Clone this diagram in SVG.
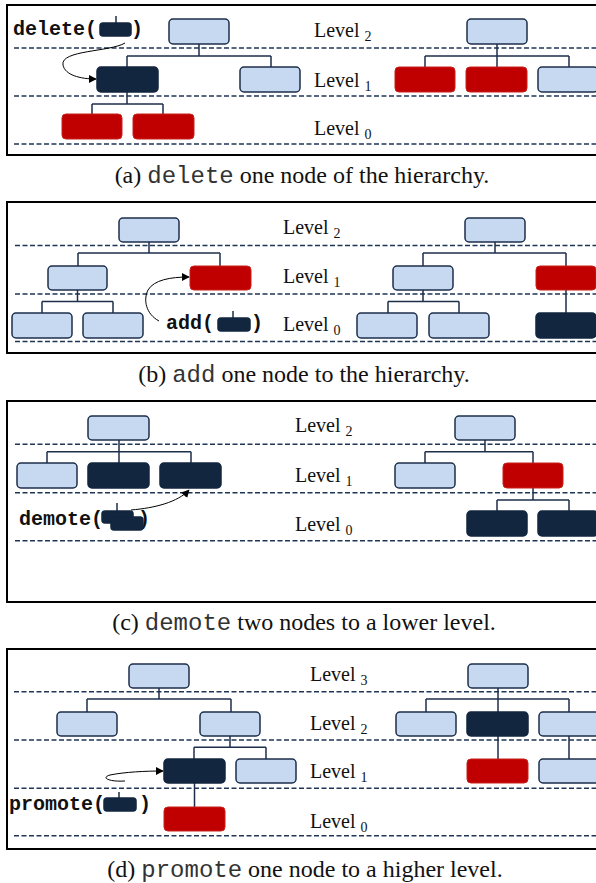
<svg xmlns="http://www.w3.org/2000/svg" width="596" height="883" viewBox="0 0 596 883">
  <defs>
    <style>
      .frame { fill: none; stroke: #000; stroke-width: 2; }
      .lvl { stroke: #1f3556; stroke-width: 1.5; stroke-dasharray: 5 2.5; fill: none; }
      .light { fill: #c6d9f0; stroke: #1c2e4a; stroke-width: 1.5; }
      .dark { fill: #12263f; stroke: #12263f; stroke-width: 1.5; }
      .red { fill: #c00000; stroke: #c8201a; stroke-width: 1; }
      .edge { stroke: #1c2e4a; stroke-width: 1.5; fill: none; }
      .op { stroke: #000; stroke-width: 1; fill: none; marker-end: url(#head); }
      .lbl { font-family: "Liberation Serif", "Times New Roman", serif; font-size: 20px; fill: #111; }
      .sub { font-size: 14px; }
      .fn { font-family: "Liberation Mono", "Courier New", monospace; font-size: 20px; font-weight: bold; fill: #111; }
      .cap { font-family: "Liberation Serif", "Times New Roman", serif; font-size: 24px; fill: #111; }
      .mono { font-family: "Liberation Mono", "Courier New", monospace; fill: #333; }
    </style>
    <marker id="head" viewBox="0 0 10 10" refX="9" refY="5" markerWidth="8" markerHeight="8" markerUnits="userSpaceOnUse" orient="auto">
      <path d="M0,0 L10,5 L0,10 z" fill="#000"/>
    </marker>
  </defs>
  <rect width="596" height="883" fill="#fff"/>

  <!-- (a) delete -->
  <g id="panel-a">
    <rect class="frame" x="7" y="5" width="600" height="150"/>
    <path class="lvl" d="M14,48 H596 M14,96 H596 M14,144 H596"/>
    <text class="lbl" x="314" y="37">Level <tspan class="sub" dy="4">2</tspan></text>
    <text class="lbl" x="314" y="87">Level <tspan class="sub" dy="4">1</tspan></text>
    <text class="lbl" x="314" y="135">Level <tspan class="sub" dy="4">0</tspan></text>
    <g id="a-connectors">
      <path class="edge" d="M199,44 V56 M127,56 H271 M127,56 V67 M271,56 V67 M127,92 V104 M92,104 H163 M92,104 V114 M163,104 V114"/>
      <path class="edge" d="M497,44 V67 M425,56 H569 M425,56 V67 M569,56 V67"/>
      <path class="op" d="M125,43 C110,52 60,50 63,65 C65,75 80,79 96,79"/>
    </g>
    <g id="a-root"><rect class="light" x="169" y="19" width="60" height="25" rx="4"/></g>
    <g id="a-deleted"><rect class="dark" x="97" y="67" width="61" height="25" rx="4"/></g>
    <g id="a-l1"><rect class="light" x="240" y="67" width="60" height="25" rx="4"/></g>
    <g id="a-c1"><rect class="red" x="62" y="114" width="60" height="25" rx="4"/></g>
    <g id="a-c2"><rect class="red" x="133" y="114" width="61" height="25" rx="4"/></g>
    <g id="a-call">
      <text class="fn" x="13" y="35">delete(</text>
      <path class="edge" d="M116,16 V23"/>
      <rect class="dark" x="100" y="23" width="31" height="13" rx="3"/>
      <text class="fn" x="131" y="35">)</text>
    </g>
    <g id="a-r-root"><rect class="light" x="467" y="19" width="60" height="25" rx="4"/></g>
    <g id="a-r-1"><rect class="red" x="395" y="67" width="60" height="25" rx="4"/></g>
    <g id="a-r-2"><rect class="red" x="466" y="67" width="61" height="25" rx="4"/></g>
    <g id="a-r-3"><rect class="light" x="538" y="67" width="60" height="25" rx="4"/></g>
  </g>
  <text class="cap" x="302" y="183" text-anchor="middle">(a) <tspan class="mono">delete</tspan> one node of the hierarchy.</text>

  <!-- (b) add -->
  <g id="panel-b">
    <rect class="frame" x="7" y="202" width="600" height="151"/>
    <path class="lvl" d="M15,245.5 H596 M15,294 H596 M15,341.5 H596"/>
    <text class="lbl" x="283" y="234">Level <tspan class="sub" dy="4">2</tspan></text>
    <text class="lbl" x="283" y="283">Level <tspan class="sub" dy="4">1</tspan></text>
    <text class="lbl" x="283" y="331">Level <tspan class="sub" dy="4">0</tspan></text>
    <g id="b-connectors">
      <path class="edge" d="M149,242 V253 M78,253 H220 M78,253 V266 M220,253 V266 M77.5,290 V301.5 M42,301.5 H113 M42,301.5 V313 M113,301.5 V313"/>
      <path class="edge" d="M495,242 V253 M423,253 H566 M423,253 V266 M566,253 V266 M423,290 V301.5 M388,301.5 H459 M388,301.5 V313 M459,301.5 V313 M566,290 V313"/>
      <path class="op" d="M159,321 C146,314 143,300 148,290 C154,280 170,277 189,277"/>
    </g>
    <g id="b-root"><rect class="light" x="119" y="218" width="60" height="24" rx="4"/></g>
    <g id="b-l1a"><rect class="light" x="48" y="266" width="59" height="24" rx="4"/></g>
    <g id="b-added"><rect class="red" x="190" y="266" width="61" height="24" rx="4"/></g>
    <g id="b-l0a"><rect class="light" x="12" y="313" width="60" height="25" rx="4"/></g>
    <g id="b-l0b"><rect class="light" x="83" y="313" width="60" height="25" rx="4"/></g>
    <g id="b-call">
      <text class="fn" x="166" y="329">add(</text>
      <path class="edge" d="M233,311 V318"/>
      <rect class="dark" x="218" y="318" width="32" height="13" rx="3"/>
      <text class="fn" x="251" y="329">)</text>
    </g>
    <g id="b-r-root"><rect class="light" x="465" y="218" width="60" height="24" rx="4"/></g>
    <g id="b-r-1a"><rect class="light" x="393" y="266" width="60" height="24" rx="4"/></g>
    <g id="b-r-1b"><rect class="red" x="536" y="266" width="60" height="24" rx="4"/></g>
    <g id="b-r-0a"><rect class="light" x="357" y="313" width="60" height="25" rx="4"/></g>
    <g id="b-r-0b"><rect class="light" x="429" y="313" width="60" height="25" rx="4"/></g>
    <g id="b-r-0c"><rect class="dark" x="536" y="313" width="60" height="25" rx="4"/></g>
  </g>
  <text class="cap" x="304" y="382" text-anchor="middle">(b) <tspan class="mono">add</tspan> one node to the hierarchy.</text>

  <!-- (c) demote -->
  <g id="panel-c">
    <rect class="frame" x="7" y="401" width="600" height="201"/>
    <path class="lvl" d="M15,444.3 H596 M15,492.7 H596 M15,540.7 H596"/>
    <text class="lbl" x="295" y="432">Level <tspan class="sub" dy="4">2</tspan></text>
    <text class="lbl" x="295" y="482">Level <tspan class="sub" dy="4">1</tspan></text>
    <text class="lbl" x="295" y="531">Level <tspan class="sub" dy="4">0</tspan></text>
    <g id="c-connectors">
      <path class="edge" d="M119,440 V451.7 M47,451.7 H191 M47,451.7 V463 M119,451.7 V463 M191,451.7 V463"/>
      <path class="edge" d="M485,440 V451.7 M425,451.7 H533 M425,451.7 V463 M533,451.7 V463 M533,488 V500 M497,500 H569 M497,500 V511 M569,500 V511"/>
    </g>
    <g id="c-root"><rect class="light" x="88" y="416" width="61" height="24" rx="4"/></g>
    <g id="c-l1a"><rect class="light" x="17" y="463" width="60" height="25" rx="4"/></g>
    <g id="c-l1b"><rect class="dark" x="88" y="463" width="61" height="25" rx="4"/></g>
    <g id="c-l1c"><rect class="dark" x="160" y="463" width="61" height="25" rx="4"/></g>
    <g id="c-call">
      <text class="fn" x="19" y="525">demote(</text>
      <text class="fn" x="138" y="525">)</text>
      <path class="edge" d="M117,503 V511"/>
      <rect class="dark" x="102" y="511" width="31" height="12" rx="3"/>
      <rect class="dark" x="111" y="517" width="32" height="13" rx="3"/>
    </g>
    <path class="op" d="M131,510 C155,508 178,502 189,490"/>
    <g id="c-r-root"><rect class="light" x="455" y="416" width="60" height="24" rx="4"/></g>
    <g id="c-r-1a"><rect class="light" x="395" y="463" width="60" height="25" rx="4"/></g>
    <g id="c-r-1b"><rect class="red" x="503" y="463" width="60" height="25" rx="4"/></g>
    <g id="c-r-0a"><rect class="dark" x="467" y="511" width="60" height="25" rx="4"/></g>
    <g id="c-r-0b"><rect class="dark" x="538" y="511" width="60" height="25" rx="4"/></g>
  </g>
  <text class="cap" x="304" y="630" text-anchor="middle">(c) <tspan class="mono">demote</tspan> two nodes to a lower level.</text>

  <!-- (d) promote -->
  <g id="panel-d">
    <rect class="frame" x="7" y="649" width="600" height="200"/>
    <path class="lvl" d="M14,691.7 H596 M14,740 H596 M14,788.3 H596 M14,835.7 H596"/>
    <text class="lbl" x="310" y="681">Level <tspan class="sub" dy="4">3</tspan></text>
    <text class="lbl" x="310" y="730">Level <tspan class="sub" dy="4">2</tspan></text>
    <text class="lbl" x="310" y="778">Level <tspan class="sub" dy="4">1</tspan></text>
    <text class="lbl" x="310" y="828">Level <tspan class="sub" dy="4">0</tspan></text>
    <g id="d-connectors">
      <path class="edge" d="M159,688 V699 M87,699 H231 M87,699 V712 M231,699 V712 M230,736 V747.3 M194,747.3 H266 M194,747.3 V759 M266,747.3 V759 M194.5,783 V807"/>
      <path class="edge" d="M498,688 V712 M426,699 H569 M426,699 V712 M569,699 V712 M498,736 V759 M569,736 V759"/>
      <path class="op" d="M125,781 C110,782 100,778 110,775 C125,772 145,771 163,771"/>
    </g>
    <g id="d-root"><rect class="light" x="129" y="664" width="60" height="24" rx="4"/></g>
    <g id="d-l2a"><rect class="light" x="57" y="712" width="60" height="24" rx="4"/></g>
    <g id="d-l2b"><rect class="light" x="200" y="712" width="60" height="24" rx="4"/></g>
    <g id="d-promoted"><rect class="dark" x="164" y="759" width="61" height="24" rx="4"/></g>
    <g id="d-l1b"><rect class="light" x="236" y="759" width="60" height="24" rx="4"/></g>
    <g id="d-l0"><rect class="red" x="164" y="807" width="61" height="24" rx="4"/></g>
    <g id="d-call">
      <text class="fn" x="9" y="810">promote(</text>
      <path class="edge" d="M119,792 V798"/>
      <rect class="dark" x="104" y="798" width="32" height="13" rx="3"/>
      <text class="fn" x="139" y="810">)</text>
    </g>
    <g id="d-r-root"><rect class="light" x="468" y="664" width="60" height="24" rx="4"/></g>
    <g id="d-r-2a"><rect class="light" x="396" y="712" width="60" height="24" rx="4"/></g>
    <g id="d-r-2b"><rect class="dark" x="467" y="712" width="61" height="24" rx="4"/></g>
    <g id="d-r-2c"><rect class="light" x="539" y="712" width="60" height="24" rx="4"/></g>
    <g id="d-r-1a"><rect class="red" x="467" y="759" width="61" height="24" rx="4"/></g>
    <g id="d-r-1b"><rect class="light" x="539" y="759" width="60" height="24" rx="4"/></g>
  </g>
  <text class="cap" x="305" y="877" text-anchor="middle">(d) <tspan class="mono">promote</tspan> one node to a higher level.</text>
</svg>
